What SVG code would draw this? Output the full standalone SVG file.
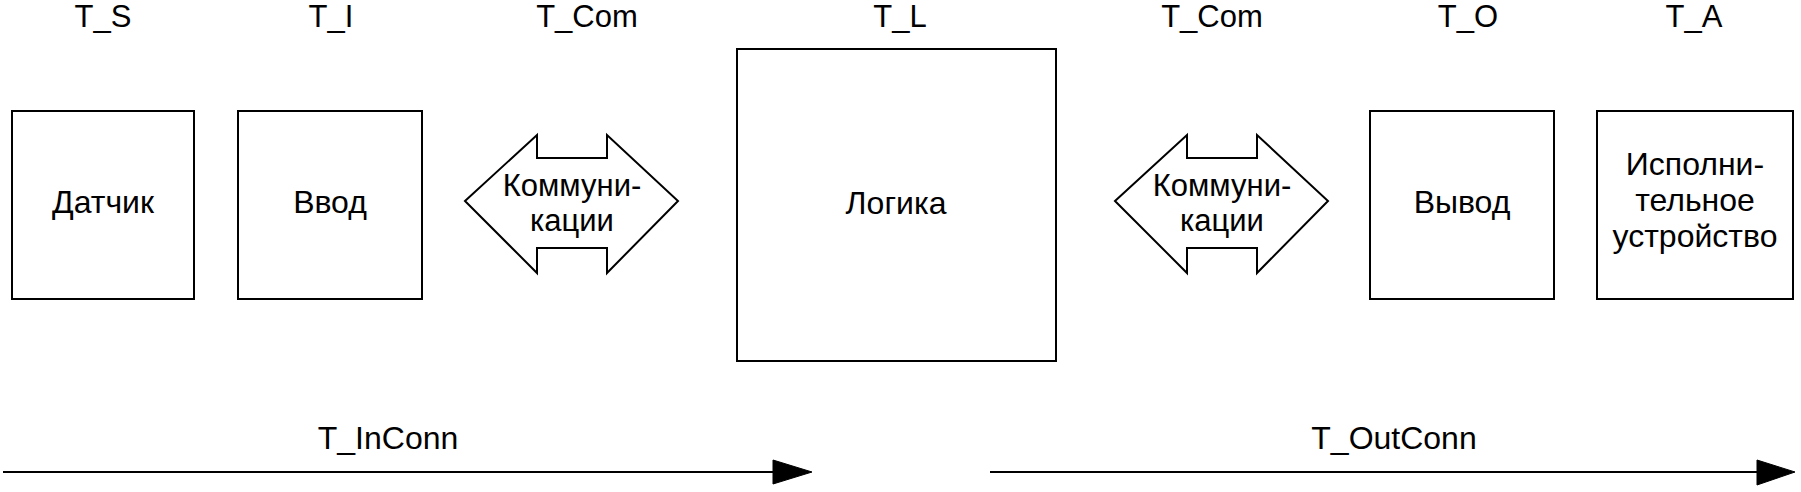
<svg xmlns="http://www.w3.org/2000/svg" width="1801" height="492" viewBox="0 0 1801 492">
<style>
text{font-family:"Liberation Sans",Arial,sans-serif;fill:#000;text-anchor:middle}
.lbl{font-size:31px}
.body{font-size:32px}
.com{font-size:31px}
.box{fill:#fff;stroke:#000;stroke-width:2}
.conn{stroke:#000;stroke-width:2;fill:none}
.head{fill:#000;stroke:#000;stroke-width:1}
</style>
<rect width="1801" height="492" fill="#fff"/>
<g id="labels">
<text class="lbl" x="103" y="27">T_S</text>
<text class="lbl" x="331" y="27">T_I</text>
<text class="lbl" x="587" y="27">T_Com</text>
<text class="lbl" x="900" y="27">T_L</text>
<text class="lbl" x="1212" y="27">T_Com</text>
<text class="lbl" x="1468" y="27">T_O</text>
<text class="lbl" x="1694" y="27">T_A</text>
</g>
<g id="sensor">
<rect class="box" x="12" y="111" width="182" height="188"/>
<text class="body" x="103" y="213">Датчик</text>
</g>
<g id="input">
<rect class="box" x="238" y="111" width="184" height="188"/>
<text class="body" x="330" y="213">Ввод</text>
</g>
<g id="com1">
<path class="box" d="M465,201 L537,135 L537,158 L607,158 L607,135 L678,201 L607,273 L607,248 L537,248 L537,273 Z"/>
<text class="com" x="572" y="196">Коммуни-<tspan x="572" dy="35">кации</tspan></text>
</g>
<g id="logic">
<rect class="box" x="737" y="49" width="319" height="312"/>
<text class="body" x="896" y="214">Логика</text>
</g>
<g id="com2">
<path class="box" d="M1115,201 L1187,135 L1187,158 L1257,158 L1257,135 L1328,201 L1257,273 L1257,248 L1187,248 L1187,273 Z"/>
<text class="com" x="1222" y="196">Коммуни-<tspan x="1222" dy="35">кации</tspan></text>
</g>
<g id="output">
<rect class="box" x="1370" y="111" width="184" height="188"/>
<text class="body" x="1462" y="213">Вывод</text>
</g>
<g id="actuator">
<rect class="box" x="1597" y="111" width="196" height="188"/>
<text class="body" x="1695" y="175">Исполни-<tspan x="1695" dy="36">тельное</tspan><tspan x="1695" dy="36">устройство</tspan></text>
</g>
<g id="connectors">
<line class="conn" x1="3" y1="472" x2="775" y2="472"/>
<polygon class="head" points="773,460 812,472 773,484"/>
<text class="body" x="388" y="449">T_InConn</text>
<line class="conn" x1="990" y1="472" x2="1759" y2="472"/>
<polygon class="head" points="1757,460 1795,472 1757,485"/>
<text class="body" x="1394" y="449">T_OutConn</text>
</g>
</svg>
